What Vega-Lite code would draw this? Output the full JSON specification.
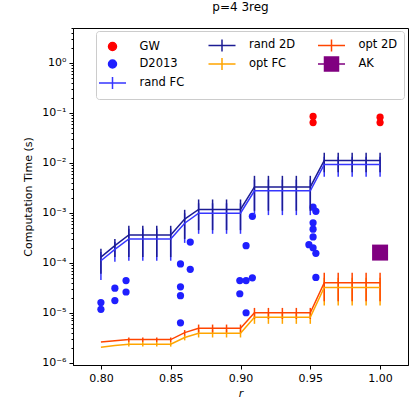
{
  "$schema": "https://vega.github.io/schema/vega-lite/v6.json",
  "width": 335,
  "height": 337,
  "autosize": "none",
  "padding": {"left": 73, "top": 28, "right": 7, "bottom": 35},
  "config": {
    "font": "DejaVu Sans",
    "view": {"stroke": "black", "strokeWidth": 1},
    "axis": {"grid": false, "domainColor": "black", "tickColor": "black", "labelColor": "black", "titleColor": "black", "labelFontSize": 11, "titleFontSize": 11, "titleFontWeight": "normal", "domainWidth": 1}
  },
  "title": {"text": "p=4 3reg", "fontSize": 12, "fontWeight": "normal", "offset": 8, "anchor": "middle", "color": "black"},
  "data": {"values": [
    {"s": "GW", "r": 0.952, "t": 0.085},
    {"s": "GW", "r": 0.952, "t": 0.064},
    {"s": "GW", "r": 1.0, "t": 0.082},
    {"s": "GW", "r": 1.0, "t": 0.064},
    {"s": "D2013", "r": 0.8, "t": 1.6e-5},
    {"s": "D2013", "r": 0.8, "t": 1.17e-5},
    {"s": "D2013", "r": 0.81, "t": 3.1e-5},
    {"s": "D2013", "r": 0.81, "t": 1.75e-5},
    {"s": "D2013", "r": 0.818, "t": 4.4e-5},
    {"s": "D2013", "r": 0.818, "t": 2.6e-5},
    {"s": "D2013", "r": 0.857, "t": 9.5e-5},
    {"s": "D2013", "r": 0.857, "t": 3.3e-5},
    {"s": "D2013", "r": 0.857, "t": 2.2e-5},
    {"s": "D2013", "r": 0.857, "t": 6.3e-6},
    {"s": "D2013", "r": 0.864, "t": 2.6e-4},
    {"s": "D2013", "r": 0.864, "t": 7.4e-5},
    {"s": "D2013", "r": 0.9085, "t": 8.5e-4},
    {"s": "D2013", "r": 0.904, "t": 2.2e-4},
    {"s": "D2013", "r": 0.8995, "t": 4.4e-5},
    {"s": "D2013", "r": 0.904, "t": 4.4e-5},
    {"s": "D2013", "r": 0.9085, "t": 5.0e-5},
    {"s": "D2013", "r": 0.8995, "t": 2.4e-5},
    {"s": "D2013", "r": 0.904, "t": 1.0e-5},
    {"s": "D2013", "r": 0.952, "t": 1.3e-3},
    {"s": "D2013", "r": 0.954, "t": 1.07e-3},
    {"s": "D2013", "r": 0.952, "t": 6.3e-4},
    {"s": "D2013", "r": 0.952, "t": 4.7e-4},
    {"s": "D2013", "r": 0.952, "t": 3.3e-4},
    {"s": "D2013", "r": 0.949, "t": 2.3e-4},
    {"s": "D2013", "r": 0.952, "t": 2.0e-4},
    {"s": "D2013", "r": 0.954, "t": 1.55e-4},
    {"s": "D2013", "r": 0.954, "t": 5.1e-5},
    {"s": "AK", "r": 1.0, "t": 1.6e-4},

    {"s": "rand FC", "r": 0.80, "t": 1.1e-4, "lo": 4.5e-5, "hi": 1.65e-4},
    {"s": "rand FC", "r": 0.81, "t": 1.85e-4, "lo": 1.05e-4, "hi": 2.6e-4},
    {"s": "rand FC", "r": 0.82, "t": 3.0e-4, "lo": 1.1e-4, "hi": 4.8e-4},
    {"s": "rand FC", "r": 0.83, "t": 3.0e-4, "lo": 1.1e-4, "hi": 4.8e-4},
    {"s": "rand FC", "r": 0.84, "t": 3.0e-4, "lo": 1.1e-4, "hi": 4.8e-4},
    {"s": "rand FC", "r": 0.85, "t": 3.0e-4, "lo": 1.1e-4, "hi": 4.8e-4},
    {"s": "rand FC", "r": 0.86, "t": 6.2e-4, "lo": 2.5e-4, "hi": 9.8e-4},
    {"s": "rand FC", "r": 0.87, "t": 9.8e-4, "lo": 3.8e-4, "hi": 1.55e-3},
    {"s": "rand FC", "r": 0.88, "t": 9.8e-4, "lo": 3.8e-4, "hi": 1.55e-3},
    {"s": "rand FC", "r": 0.89, "t": 9.8e-4, "lo": 3.8e-4, "hi": 1.55e-3},
    {"s": "rand FC", "r": 0.90, "t": 9.8e-4, "lo": 3.8e-4, "hi": 1.55e-3},
    {"s": "rand FC", "r": 0.91, "t": 2.75e-3, "lo": 9.0e-4, "hi": 4.6e-3},
    {"s": "rand FC", "r": 0.92, "t": 2.75e-3, "lo": 9.0e-4, "hi": 4.6e-3},
    {"s": "rand FC", "r": 0.93, "t": 2.75e-3, "lo": 9.0e-4, "hi": 4.6e-3},
    {"s": "rand FC", "r": 0.94, "t": 2.75e-3, "lo": 9.0e-4, "hi": 4.6e-3},
    {"s": "rand FC", "r": 0.95, "t": 2.75e-3, "lo": 9.0e-4, "hi": 4.6e-3},
    {"s": "rand FC", "r": 0.96, "t": 9.3e-3, "lo": 5.3e-3, "hi": 1.33e-2},
    {"s": "rand FC", "r": 0.97, "t": 9.3e-3, "lo": 5.3e-3, "hi": 1.33e-2},
    {"s": "rand FC", "r": 0.98, "t": 9.3e-3, "lo": 5.3e-3, "hi": 1.33e-2},
    {"s": "rand FC", "r": 0.99, "t": 9.3e-3, "lo": 5.3e-3, "hi": 1.33e-2},
    {"s": "rand FC", "r": 1.00, "t": 9.3e-3, "lo": 5.3e-3, "hi": 1.33e-2},

    {"s": "rand 2D", "r": 0.80, "t": 1.3e-4, "lo": 6.0e-5, "hi": 1.9e-4},
    {"s": "rand 2D", "r": 0.81, "t": 2.2e-4, "lo": 1.3e-4, "hi": 3.0e-4},
    {"s": "rand 2D", "r": 0.82, "t": 3.6e-4, "lo": 1.3e-4, "hi": 5.5e-4},
    {"s": "rand 2D", "r": 0.83, "t": 3.6e-4, "lo": 1.3e-4, "hi": 5.5e-4},
    {"s": "rand 2D", "r": 0.84, "t": 3.6e-4, "lo": 1.3e-4, "hi": 5.5e-4},
    {"s": "rand 2D", "r": 0.85, "t": 3.6e-4, "lo": 1.3e-4, "hi": 5.5e-4},
    {"s": "rand 2D", "r": 0.86, "t": 7.5e-4, "lo": 3.0e-4, "hi": 1.15e-3},
    {"s": "rand 2D", "r": 0.87, "t": 1.17e-3, "lo": 4.5e-4, "hi": 1.85e-3},
    {"s": "rand 2D", "r": 0.88, "t": 1.17e-3, "lo": 4.5e-4, "hi": 1.85e-3},
    {"s": "rand 2D", "r": 0.89, "t": 1.17e-3, "lo": 4.5e-4, "hi": 1.85e-3},
    {"s": "rand 2D", "r": 0.90, "t": 1.17e-3, "lo": 4.5e-4, "hi": 1.85e-3},
    {"s": "rand 2D", "r": 0.91, "t": 3.3e-3, "lo": 1.1e-3, "hi": 5.5e-3},
    {"s": "rand 2D", "r": 0.92, "t": 3.3e-3, "lo": 1.1e-3, "hi": 5.5e-3},
    {"s": "rand 2D", "r": 0.93, "t": 3.3e-3, "lo": 1.1e-3, "hi": 5.5e-3},
    {"s": "rand 2D", "r": 0.94, "t": 3.3e-3, "lo": 1.1e-3, "hi": 5.5e-3},
    {"s": "rand 2D", "r": 0.95, "t": 3.3e-3, "lo": 1.1e-3, "hi": 5.5e-3},
    {"s": "rand 2D", "r": 0.96, "t": 1.12e-2, "lo": 6.5e-3, "hi": 1.6e-2},
    {"s": "rand 2D", "r": 0.97, "t": 1.12e-2, "lo": 6.5e-3, "hi": 1.6e-2},
    {"s": "rand 2D", "r": 0.98, "t": 1.12e-2, "lo": 6.5e-3, "hi": 1.6e-2},
    {"s": "rand 2D", "r": 0.99, "t": 1.12e-2, "lo": 6.5e-3, "hi": 1.6e-2},
    {"s": "rand 2D", "r": 1.00, "t": 1.12e-2, "lo": 6.5e-3, "hi": 1.6e-2},

    {"s": "opt FC", "r": 0.80, "t": 2.05e-6, "lo": 2.05e-6, "hi": 2.05e-6},
    {"s": "opt FC", "r": 0.81, "t": 2.2e-6, "lo": 2.2e-6, "hi": 2.2e-6},
    {"s": "opt FC", "r": 0.82, "t": 2.35e-6, "lo": 2.1e-6, "hi": 2.6e-6},
    {"s": "opt FC", "r": 0.83, "t": 2.35e-6, "lo": 2.1e-6, "hi": 2.6e-6},
    {"s": "opt FC", "r": 0.84, "t": 2.35e-6, "lo": 2.1e-6, "hi": 2.6e-6},
    {"s": "opt FC", "r": 0.85, "t": 2.35e-6, "lo": 2.1e-6, "hi": 2.6e-6},
    {"s": "opt FC", "r": 0.86, "t": 3.2e-6, "lo": 2.8e-6, "hi": 3.6e-6},
    {"s": "opt FC", "r": 0.87, "t": 3.9e-6, "lo": 3.2e-6, "hi": 4.6e-6},
    {"s": "opt FC", "r": 0.88, "t": 3.9e-6, "lo": 3.2e-6, "hi": 4.6e-6},
    {"s": "opt FC", "r": 0.89, "t": 3.9e-6, "lo": 3.2e-6, "hi": 4.6e-6},
    {"s": "opt FC", "r": 0.90, "t": 3.9e-6, "lo": 3.2e-6, "hi": 4.6e-6},
    {"s": "opt FC", "r": 0.91, "t": 8.1e-6, "lo": 6.0e-6, "hi": 1.02e-5},
    {"s": "opt FC", "r": 0.92, "t": 8.1e-6, "lo": 6.0e-6, "hi": 1.02e-5},
    {"s": "opt FC", "r": 0.93, "t": 8.1e-6, "lo": 6.0e-6, "hi": 1.02e-5},
    {"s": "opt FC", "r": 0.94, "t": 8.1e-6, "lo": 6.0e-6, "hi": 1.02e-5},
    {"s": "opt FC", "r": 0.95, "t": 8.1e-6, "lo": 6.0e-6, "hi": 1.02e-5},
    {"s": "opt FC", "r": 0.96, "t": 3.2e-5, "lo": 1.4e-5, "hi": 5.0e-5},
    {"s": "opt FC", "r": 0.97, "t": 3.2e-5, "lo": 1.4e-5, "hi": 5.0e-5},
    {"s": "opt FC", "r": 0.98, "t": 3.2e-5, "lo": 1.4e-5, "hi": 5.0e-5},
    {"s": "opt FC", "r": 0.99, "t": 3.2e-5, "lo": 1.4e-5, "hi": 5.0e-5},
    {"s": "opt FC", "r": 1.00, "t": 3.2e-5, "lo": 1.4e-5, "hi": 5.0e-5},

    {"s": "opt 2D", "r": 0.80, "t": 2.6e-6, "lo": 2.6e-6, "hi": 2.6e-6},
    {"s": "opt 2D", "r": 0.81, "t": 2.75e-6, "lo": 2.75e-6, "hi": 2.75e-6},
    {"s": "opt 2D", "r": 0.82, "t": 2.9e-6, "lo": 2.6e-6, "hi": 3.2e-6},
    {"s": "opt 2D", "r": 0.83, "t": 2.9e-6, "lo": 2.6e-6, "hi": 3.2e-6},
    {"s": "opt 2D", "r": 0.84, "t": 2.9e-6, "lo": 2.6e-6, "hi": 3.2e-6},
    {"s": "opt 2D", "r": 0.85, "t": 2.9e-6, "lo": 2.6e-6, "hi": 3.2e-6},
    {"s": "opt 2D", "r": 0.86, "t": 4.0e-6, "lo": 3.5e-6, "hi": 4.5e-6},
    {"s": "opt 2D", "r": 0.87, "t": 4.9e-6, "lo": 4.0e-6, "hi": 5.8e-6},
    {"s": "opt 2D", "r": 0.88, "t": 4.9e-6, "lo": 4.0e-6, "hi": 5.8e-6},
    {"s": "opt 2D", "r": 0.89, "t": 4.9e-6, "lo": 4.0e-6, "hi": 5.8e-6},
    {"s": "opt 2D", "r": 0.90, "t": 4.9e-6, "lo": 4.0e-6, "hi": 5.8e-6},
    {"s": "opt 2D", "r": 0.91, "t": 1.0e-5, "lo": 7.5e-6, "hi": 1.25e-5},
    {"s": "opt 2D", "r": 0.92, "t": 1.0e-5, "lo": 7.5e-6, "hi": 1.25e-5},
    {"s": "opt 2D", "r": 0.93, "t": 1.0e-5, "lo": 7.5e-6, "hi": 1.25e-5},
    {"s": "opt 2D", "r": 0.94, "t": 1.0e-5, "lo": 7.5e-6, "hi": 1.25e-5},
    {"s": "opt 2D", "r": 0.95, "t": 1.0e-5, "lo": 7.5e-6, "hi": 1.25e-5},
    {"s": "opt 2D", "r": 0.96, "t": 4.0e-5, "lo": 1.7e-5, "hi": 6.3e-5},
    {"s": "opt 2D", "r": 0.97, "t": 4.0e-5, "lo": 1.7e-5, "hi": 6.3e-5},
    {"s": "opt 2D", "r": 0.98, "t": 4.0e-5, "lo": 1.7e-5, "hi": 6.3e-5},
    {"s": "opt 2D", "r": 0.99, "t": 4.0e-5, "lo": 1.7e-5, "hi": 6.3e-5},
    {"s": "opt 2D", "r": 1.00, "t": 4.0e-5, "lo": 1.7e-5, "hi": 6.3e-5}
  ]},
  "encoding": {
    "x": {"field": "r", "type": "quantitative",
      "scale": {"domain": [0.78, 1.02], "nice": false, "zero": false},
      "axis": {"title": "r", "titleFontStyle": "italic", "values": [0.8, 0.85, 0.9, 0.95, 1.0], "format": ".2f", "tickSize": 4, "labelPadding": 3, "titlePadding": 4}},
    "color": {"field": "s", "type": "nominal",
      "scale": {"domain": ["GW", "rand 2D", "opt 2D", "D2013", "opt FC", "AK", "rand FC"],
                "range": ["#ff0000", "#1c1c94", "#ff4500", "#1f1fff", "#ffa500", "#800080", "#3636ff"]},
      "legend": {
        "title": null, "orient": "none", "legendX": 23, "legendY": 3, "columns": 3, "direction": "horizontal",
        "gridAlign": "all", "columnPadding": 18.5, "rowPadding": -1, "padding": 6,
        "fillColor": "white", "strokeColor": "#cccccc", "cornerRadius": 3,
        "labelFontSize": 11.5, "labelColor": "black", "labelOffset": 19,
        "symbolSize": 196, "symbolOffset": 2.5, "symbolStrokeWidth": 1.5,
        "encode": {"symbols": {"update": {
          "shape": {"signal": "indexof(['GW','D2013'], datum.value) >= 0 ? 'M-0.57,0A0.57,0.57 0 1,0 0.57,0A0.57,0.57 0 1,0 -0.57,0Z' : (datum.value === 'AK' ? 'M-1.93,0H1.93M-1,-1H1V1H-1Z' : 'M-1.93,0H1.93M0,-0.86V0.86')"},
          "fill": {"scale": "color", "field": "value"},
          "stroke": {"scale": "color", "field": "value"},
          "strokeWidth": {"value": 1.5},
          "opacity": {"value": 1},
          "fillOpacity": {"value": 1},
          "strokeOpacity": {"value": 1}
        }}}
      }}
  },
  "layer": [
    {
      "transform": [{"filter": "datum.s === 'GW' || datum.s === 'D2013'"}],
      "mark": {"type": "point", "filled": true, "size": 52, "opacity": 1, "shape": "circle"},
      "encoding": {
        "y": {"field": "t", "type": "quantitative",
          "scale": {"type": "log", "domain": [9e-7, 5], "nice": false},
          "axis": {"title": "Computation Time (s)", "labelOverlap": false, "labelPadding": 3, "titlePadding": 8,
            "values": [1e-6, 2e-6, 3e-6, 4e-6, 5e-6, 6e-6, 7e-6, 8e-6, 9e-6, 1e-5, 2e-5, 3e-5, 4e-5, 5e-5, 6e-5, 7e-5, 8e-5, 9e-5, 1e-4, 2e-4, 3e-4, 4e-4, 5e-4, 6e-4, 7e-4, 8e-4, 9e-4, 1e-3, 2e-3, 3e-3, 4e-3, 5e-3, 6e-3, 7e-3, 8e-3, 9e-3, 1e-2, 2e-2, 3e-2, 4e-2, 5e-2, 6e-2, 7e-2, 8e-2, 9e-2, 0.1, 0.2, 0.3, 0.4, 0.5, 0.6, 0.7, 0.8, 0.9, 1, 2, 3, 4, 5],
            "labelExpr": "abs(log(datum.value)/LN10 - round(log(datum.value)/LN10)) < 0.01 ? (round(log(datum.value)/LN10) == 0 ? '10⁰' : '10⁻' + ['⁰','¹','²','³','⁴','⁵','⁶','⁷'][-round(log(datum.value)/LN10)]) : ''",
            "tickSize": {"condition": {"test": "abs(log(datum.value)/LN10 - round(log(datum.value)/LN10)) < 0.01", "value": 4}, "value": 2}}}
      }
    },
    {
      "transform": [{"filter": "indexof(['rand FC','rand 2D','opt FC','opt 2D'], datum.s) >= 0"}],
      "mark": {"type": "rule", "strokeWidth": 1.5},
      "encoding": {
        "y": {"field": "lo", "type": "quantitative", "scale": {"type": "log", "domain": [9e-7, 5], "nice": false}, "axis": {"title": "Computation Time (s)"}},
        "y2": {"field": "hi"}
      }
    },
    {
      "transform": [{"filter": "indexof(['rand FC','rand 2D','opt FC','opt 2D'], datum.s) >= 0"}],
      "mark": {"type": "line", "strokeWidth": 1.5},
      "encoding": {
        "y": {"field": "t", "type": "quantitative", "scale": {"type": "log", "domain": [9e-7, 5], "nice": false}, "axis": {"title": "Computation Time (s)"}}
      }
    },
    {
      "transform": [{"filter": "datum.s === 'AK'"}],
      "mark": {"type": "square", "filled": true, "size": 256, "opacity": 1},
      "encoding": {
        "y": {"field": "t", "type": "quantitative", "scale": {"type": "log", "domain": [9e-7, 5], "nice": false}, "axis": {"title": "Computation Time (s)"}}
      }
    }
  ]
}
